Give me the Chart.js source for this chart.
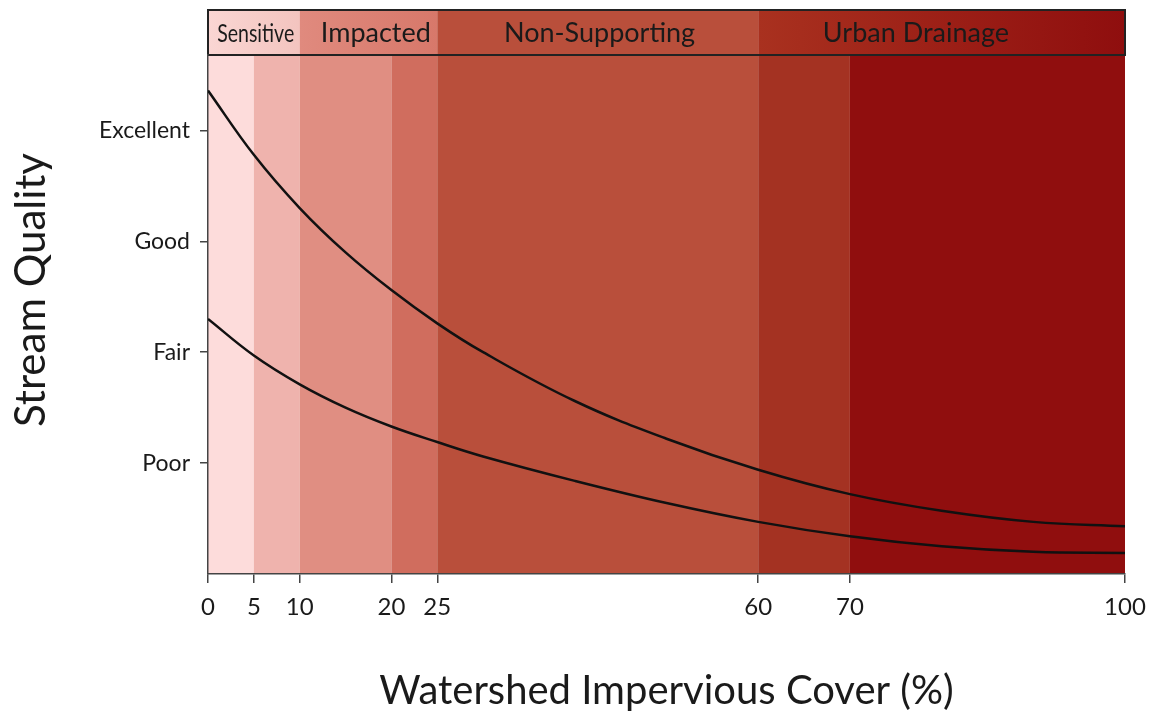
<!DOCTYPE html>
<html>
<head>
<meta charset="utf-8">
<script src="https://cdn.jsdelivr.net/npm/chart.js@4.4.1/dist/chart.umd.min.js"></script>
<style>
  html, body { margin: 0; padding: 0; background: #fff; }
  #wrap { width: 1153px; height: 718px; position: relative; }
</style>
</head>
<body>
<div id="wrap"><canvas id="chart_streamQuality"></canvas></div>
<script>
// x ticks (watershed impervious cover, %)
const xTicks = [0, 5, 10, 20, 25, 60, 70, 100];
// y ticks
const yTickValues = [1, 2, 3, 4];
const yTickLabels = ['Poor', 'Fair', 'Good', 'Excellent'];

// curves
const xPoints = [0, 5, 10, 15, 20, 25, 30, 40, 50, 60, 70, 80, 90, 100];
const upperCurve = [4.36, 3.78, 3.30, 2.90, 2.56, 2.26, 2.00, 1.56, 1.22, 0.94, 0.72, 0.57, 0.47, 0.43];
const lowerCurve = [2.30, 1.97, 1.71, 1.50, 1.33, 1.19, 1.06, 0.84, 0.64, 0.47, 0.34, 0.25, 0.20, 0.19];

// shaded bands behind the curves
const bandEdges = [0, 5, 10, 20, 25, 60, 70, 100];
const bandColors = ['#fddcdb', '#efb3ad', '#e08e82', '#d06d5e', '#b94f3b', '#a43222', '#900e0e'];

// header zones
const zoneNames = ['Sensitive', 'Impacted', 'Non-Supporting', 'Urban Drainage'];
const zoneEdges = [0, 10, 25, 60, 100];
const zoneLabelAt = [5.2, 18.3, 42.7, 77.2];
const zoneColorsFrom = ['#fad6d3', '#e08a7e', '#b94f3b', '#a9311f'];
const zoneColorsTo = ['#f3c4bf', '#d7786a', '#b94f3b', '#8f0e0e'];

const FONT = 'Lato, "Open Sans", sans-serif';

function toPoints(values) {
    return xPoints.map((x, i) => ({ x: x, y: values[i] }));
}

var chart_streamQuality = new Chart(document.getElementById('chart_streamQuality'), {
    type: 'line',
    data: {
        datasets: [
            {
                label: 'upper',
                data: toPoints(upperCurve),
                borderColor: '#111',
                borderWidth: 2.5,
                pointRadius: 0,
                tension: 0.4,
                fill: false
            },
            {
                label: 'lower',
                data: toPoints(lowerCurve),
                borderColor: '#111',
                borderWidth: 2.5,
                pointRadius: 0,
                tension: 0.4,
                fill: false
            }
        ]
    },
    options: {
        animation: false,
        responsive: true,
        maintainAspectRatio: false,
        layout: {
            padding: { top: 55, right: 28, left: 0, bottom: 0 }
        },
        plugins: {
            legend: { display: false },
            tooltip: { enabled: false }
        },
        scales: {
            x: {
                type: 'linear',
                min: 0,
                max: 100,
                afterBuildTicks: (scale) => {
                    scale.ticks = xTicks.map(v => ({ value: v }));
                },
                afterFit: (scale) => {
                    scale.height = 144;
                    scale.paddingLeft = 0;
                    scale.paddingRight = 0;
                },
                border: { color: '#444', width: 1.5 },
                grid: {
                    drawOnChartArea: false,
                    drawTicks: true,
                    tickLength: 9,
                    color: '#444',
                    lineWidth: 1.5
                },
                ticks: {
                    autoSkip: false,
                    maxRotation: 0,
                    padding: 10,
                    color: '#1a1a1a',
                    font: { family: FONT, size: 24 }
                },
                title: {
                    display: true,
                    text: 'Watershed Impervious Cover (%)',
                    color: '#1a1a1a',
                    font: { family: FONT, size: 40 },
                    padding: { top: 0, bottom: 3 }
                }
            },
            y: {
                type: 'linear',
                min: 0,
                max: 4.68,
                afterBuildTicks: (scale) => {
                    scale.ticks = yTickValues.map(v => ({ value: v }));
                },
                afterFit: (scale) => { scale.width = 208; },
                border: { color: '#444', width: 1.5 },
                grid: {
                    drawOnChartArea: false,
                    drawTicks: true,
                    tickLength: 8,
                    color: '#444',
                    lineWidth: 1.5
                },
                ticks: {
                    padding: 10,
                    color: '#1a1a1a',
                    font: { family: FONT, size: 23 },
                    callback: (value) => yTickLabels[yTickValues.indexOf(value)]
                }
            }
        }
    },
    plugins: [{
        id: 'bandsAndHeader',
        beforeDraw: (chart) => {
            const ctx = chart.ctx;
            const area = chart.chartArea;
            const xs = chart.scales.x;
            ctx.save();
            ctx.fillStyle = 'white';
            ctx.fillRect(0, 0, chart.width, chart.height);

            // plot bands
            for (let i = 0; i < bandColors.length; i++) {
                const x0 = xs.getPixelForValue(bandEdges[i]);
                const x1 = xs.getPixelForValue(bandEdges[i + 1]);
                ctx.fillStyle = bandColors[i];
                ctx.fillRect(x0, area.top, x1 - x0, area.bottom - area.top);
            }

            // header zones
            const hTop = 10;
            const hBottom = area.top;
            for (let i = 0; i < zoneNames.length; i++) {
                const x0 = xs.getPixelForValue(zoneEdges[i]);
                const x1 = xs.getPixelForValue(zoneEdges[i + 1]);
                const g = ctx.createLinearGradient(x0, 0, x1, 0);
                g.addColorStop(0, zoneColorsFrom[i]);
                g.addColorStop(1, zoneColorsTo[i]);
                ctx.fillStyle = g;
                ctx.fillRect(x0, hTop, x1 - x0, hBottom - hTop);
            }
            ctx.strokeStyle = '#222';
            ctx.lineWidth = 2;
            ctx.strokeRect(area.left, hTop, area.right - area.left, hBottom - hTop);

            ctx.fillStyle = '#1a1a1a';
            ctx.textAlign = 'center';
            ctx.textBaseline = 'middle';
            const yMid = (hTop + hBottom) / 2 + 1;
            zoneNames.forEach((name, i) => {
                const cx = xs.getPixelForValue(zoneLabelAt[i]);
                if (i === 0) {
                    ctx.font = '25px ' + FONT;
                    ctx.fillText(name, cx, yMid, 77);
                } else {
                    ctx.font = '27px ' + FONT;
                    ctx.fillText(name, cx, yMid);
                }
            });

            // y axis title
            ctx.save();
            ctx.translate(31, 290);
            ctx.rotate(-Math.PI / 2);
            ctx.font = '42px ' + FONT;
            ctx.fillText('Stream Quality', 0, 0);
            ctx.restore();

            ctx.restore();
        }
    }]
});
</script>
</body>
</html>
